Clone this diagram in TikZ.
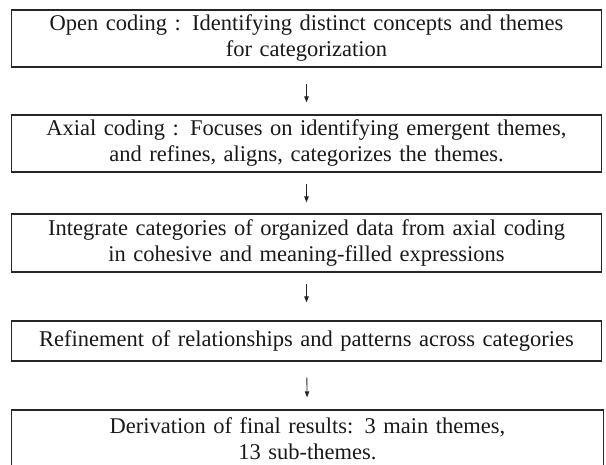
\documentclass[tikz,border=0pt]{standalone}
\usepackage{fontspec}
\setmainfont{Liberation Serif}
\usetikzlibrary{arrows.meta}
\newcommand{\widesp}{\spaceskip=0.5em plus 0.1em minus 0.05em\relax}
\begin{document}
\begin{tikzpicture}[x=1pt,y=1pt,
  stagebox/.style={draw=black!85, line width=1.3pt, align=center, text width=588pt,
    inner sep=0pt, font=\fontsize{22.5}{26}\selectfont\widesp, text=black!90},
  arr/.style={draw=black!85, line width=0.9pt, -{Triangle[length=6pt,width=4.5pt]}}]
\useasboundingbox (0,0) rectangle (606,-464);
\node[stagebox, minimum width=590pt, minimum height=57pt] (b1) at (306.5,-38.5)
  {Open coding : Identifying distinct concepts and themes\\for categorization};
\node[stagebox, minimum width=590pt, minimum height=57pt] (b2) at (306.5,-143.5)
  {Axial coding : Focuses on identifying emergent themes,\\and refines, aligns, categorizes the themes.};
\node[stagebox, minimum width=590pt, minimum height=58pt] (b3) at (306.5,-243)
  {Integrate categories of organized data from axial coding\\in cohesive and meaning-filled expressions};
\node[stagebox, minimum width=590pt, minimum height=40pt] (b4) at (306.5,-341)
  {Refinement of relationships and patterns across categories};
\node[stagebox, minimum width=592pt, minimum height=58pt] (b5) at (307.5,-439)
  {Derivation of final results: 3 main themes,\\13 sub-themes.};
\draw[arr, shorten <=16pt, shorten >=12pt] (b1) -- (b2);
\draw[arr, shorten <=11pt, shorten >=11pt] (b2) -- (b3);
\draw[arr, shorten <=11pt, shorten >=18pt] (b3) -- (b4);
\draw[arr, shorten <=16pt, shorten >=12pt] (b4) -- (b5);
\end{tikzpicture}
\end{document}
